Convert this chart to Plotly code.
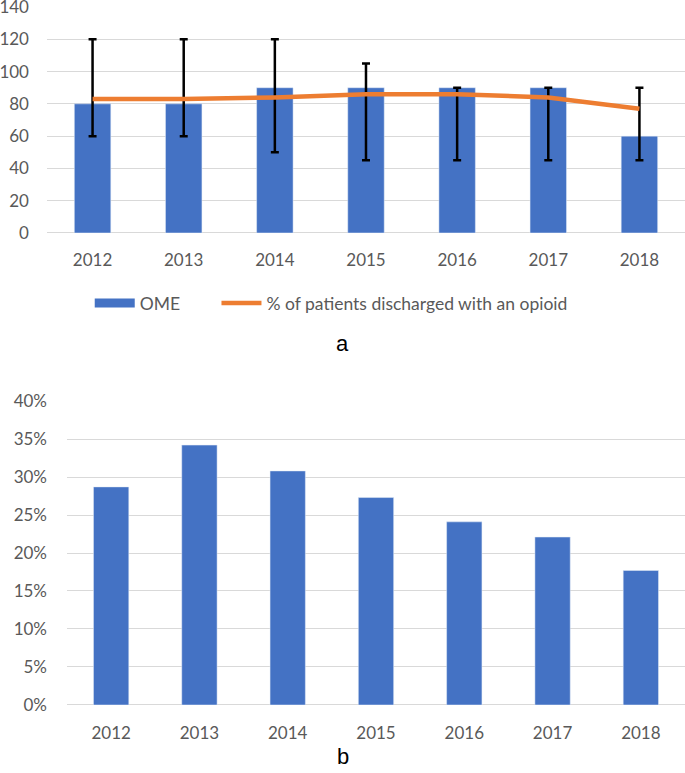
import plotly.graph_objects as go

years = ["2012", "2013", "2014", "2015", "2016", "2017", "2018"]
ome = [80, 80, 90, 90, 90, 90, 60]
ome_low = [60, 60, 50, 45, 45, 45, 45]
ome_high = [120, 120, 120, 105, 90, 90, 90]
pct_discharged = [83, 83, 84, 86, 86, 84, 77]
pct_panel_b = [0.287, 0.342, 0.308, 0.273, 0.241, 0.221, 0.177]

BLUE = "#4472C4"
ORANGE = "#ED7D31"
GRID = "#D9D9D9"
TICK = "#595959"
FONT = "Lato"

err_plus = [h - v for h, v in zip(ome_high, ome)]
err_minus = [v - l for l, v in zip(ome_low, ome)]

fig = go.Figure()

fig.add_trace(go.Bar(
    x=years, y=ome, name="OME", marker_color=BLUE, width=0.4,
    showlegend=False,
    error_y=dict(type="data", symmetric=False, array=err_plus,
                 arrayminus=err_minus, color="black", thickness=2.5, width=4),
    xaxis="x", yaxis="y",
))
# legend-only entry so the OME key looks like a wide block, as in Excel
# (trailing nbsp's push the next legend item right)
fig.add_trace(go.Scatter(
    x=[None], y=[None], name="OME" + "\u00a0" * 7, mode="lines",
    line=dict(color=BLUE, width=9), xaxis="x", yaxis="y",
))
fig.add_trace(go.Scatter(
    x=years, y=pct_discharged, name="% of patients discharged with an opioid",
    mode="lines", line=dict(color=ORANGE, width=4.5),
    xaxis="x", yaxis="y",
))
fig.add_trace(go.Bar(
    x=years, y=pct_panel_b, marker_color=BLUE, width=0.4, showlegend=False,
    xaxis="x2", yaxis="y2",
))

axis_font = dict(family=FONT, size=17, color=TICK)

fig.update_layout(
    width=685, height=773,
    margin=dict(l=0, r=0, t=0, b=0),
    paper_bgcolor="white", plot_bgcolor="white",
    font=dict(family=FONT, color=TICK),
    xaxis=dict(domain=[0.0686, 1], type="category", tickfont=axis_font,
               showgrid=False, showline=False, ticks="", anchor="y",
               ticklabelstandoff=15, automargin=False),
    yaxis=dict(domain=[0.6986, 0.9909], range=[0, 140], dtick=20,
               tickfont=axis_font, gridcolor=GRID, gridwidth=1,
               zeroline=True, zerolinecolor=GRID, zerolinewidth=1,
               ticks="", ticklabelstandoff=17, anchor="x", automargin=False,
               ticklabeloverflow="allow"),
    xaxis2=dict(domain=[0.0978, 1], type="category", tickfont=axis_font,
                showgrid=False, showline=False, ticks="", anchor="y2",
                ticklabelstandoff=16, automargin=False),
    yaxis2=dict(domain=[0.0880, 0.4812], range=[0, 0.40], dtick=0.05,
                tickformat=".0%", tickfont=axis_font, gridcolor=GRID,
                gridwidth=1, zeroline=True, zerolinecolor=GRID,
                zerolinewidth=1, ticks="", ticklabelstandoff=19, anchor="x2",
                automargin=False, ticklabeloverflow="allow"),
    legend=dict(orientation="h", x=0.131, y=0.608, xanchor="left",
                yanchor="middle", font=dict(family=FONT, size=17.5, color=TICK),
                itemwidth=40, traceorder="normal"),
    annotations=[
        dict(text="a", x=0.5, y=1 - 343 / 773, xref="paper", yref="paper",
             showarrow=False, font=dict(family="Liberation Sans", size=22,
                                        color="black")),
        dict(text="b", x=0.5, y=1 - 771 / 773, xref="paper", yref="paper",
             showarrow=False, font=dict(family="Liberation Sans", size=22,
                                        color="black")),
    ],
)

fig.write_html("out.html", config={"displayModeBar": False},
               post_script="document.body.style.margin='0';")
